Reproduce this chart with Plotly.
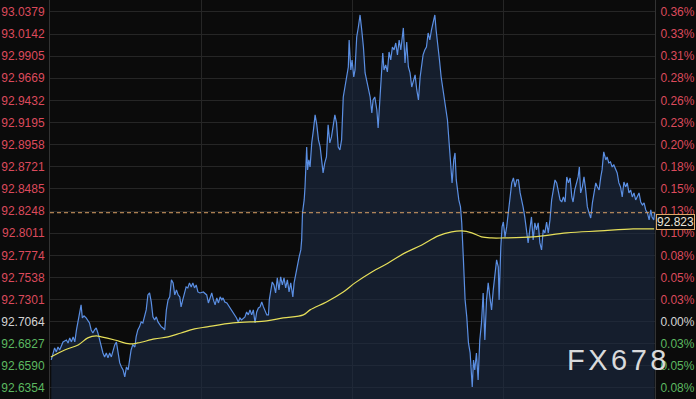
import plotly.graph_objects as go

# ---- data (minutes since session open, price) ----
minutes = [3, 7, 11, 15, 19, 23, 27, 31, 39, 43, 47, 51, 55, 59, 63, 67, 71, 74, 77, 81,
           86, 90, 94, 98, 102, 106, 110, 114, 118, 122, 126, 130, 134, 138, 142, 146, 150, 154, 158, 162,
           166, 170, 174, 178, 182, 186, 190, 193, 197, 202, 205, 209, 213, 217, 221, 225, 229, 233, 237, 241,
           245, 249, 253, 257, 261, 265, 269, 273, 277, 281, 285, 289, 293, 297, 301, 305, 309, 312, 316, 321,
           324, 328, 332, 336, 340, 344, 348, 352, 357, 365, 373, 377, 381, 385, 389, 393, 397, 401, 405, 409,
           412, 416, 421, 424, 428, 432, 436, 440, 444, 448, 452, 456, 460, 464, 468, 472, 476, 480, 484, 488,
           492, 496, 500, 504, 508, 512, 516, 520, 522, 525, 529, 533, 537, 541, 545, 549, 553, 557, 561, 565,
           569, 573, 578, 581, 585, 590, 593, 597, 599, 601, 605, 607, 609, 611, 613, 616, 619, 623, 627, 631,
           635, 639, 643, 647, 650, 654, 658, 662, 666, 670, 674, 678, 682, 686, 690, 694, 698, 702, 706, 710,
           712, 716, 719, 723, 726, 730, 734, 738, 742, 746, 750, 754, 758, 762, 766, 769, 773, 778, 781, 785,
           789, 792, 795, 799, 803, 807, 811, 815, 819, 823, 827, 831, 835, 838, 841, 845, 849, 853, 857, 861,
           865, 869, 873, 877, 881, 885, 888, 892, 896, 900, 904, 908, 912, 916, 919, 923, 927, 931, 935, 938,
           942, 946, 950, 954, 957, 961, 964, 967, 970, 973, 977, 980, 984, 988, 992, 996, 1000, 1002, 1005, 1008,
           1011, 1015, 1019, 1023, 1027, 1031, 1035, 1039, 1043, 1047, 1051, 1055, 1059, 1063, 1067, 1069, 1073, 1076, 1079, 1083,
           1087, 1091, 1095, 1099, 1103, 1107, 1111, 1115, 1119, 1123, 1126, 1130, 1134, 1138, 1142, 1146, 1150, 1154, 1158, 1162,
           1166, 1170, 1174, 1178, 1182, 1186, 1190, 1194, 1198, 1202, 1206, 1210, 1214, 1218, 1222, 1226, 1230, 1234, 1238, 1242,
           1245, 1249, 1253, 1257, 1260, 1263, 1267, 1271, 1275, 1279, 1283, 1287, 1291, 1295, 1299, 1303, 1307, 1311, 1314, 1318,
           1323, 1326, 1330, 1334, 1338, 1342, 1346, 1350, 1354, 1358, 1362, 1366, 1370, 1374, 1378, 1382, 1386, 1390, 1394, 1398,
           1402, 1406, 1410, 1414, 1418, 1422, 1426, 1430, 1433, 1437, 1439]

prices = [92.6654, 92.6729, 92.6783, 92.6740, 92.6793, 92.6761, 92.6815, 92.6847, 92.6868, 92.6836,
          92.6890, 92.6847, 92.6901, 92.6847, 92.6975, 92.7082, 92.7157, 92.7243, 92.7104, 92.7125,
          92.7104, 92.7082, 92.7050, 92.6975, 92.6943, 92.6975, 92.6997, 92.6943, 92.6868, 92.6793,
          92.6729, 92.6686, 92.6729, 92.6676, 92.6729, 92.6686, 92.6761, 92.6815, 92.6847, 92.6729,
          92.6622, 92.6579, 92.6547, 92.6472, 92.6579, 92.6547, 92.6654, 92.6761, 92.6815, 92.6793,
          92.6901, 92.6975, 92.7008, 92.7061, 92.7050, 92.7136, 92.7190, 92.7350, 92.7371, 92.7275,
          92.7115, 92.7082, 92.7115, 92.7061, 92.7029, 92.7008, 92.6997, 92.6975, 92.7190, 92.7297,
          92.7329, 92.7511, 92.7479, 92.7350, 92.7404, 92.7350, 92.7329, 92.7222, 92.7297, 92.7382,
          92.7436, 92.7425, 92.7479, 92.7436, 92.7479, 92.7425, 92.7457, 92.7382, 92.7371, 92.7382,
          92.7350, 92.7264, 92.7329, 92.7371, 92.7297, 92.7243, 92.7318, 92.7264, 92.7329, 92.7297,
          92.7318, 92.7275, 92.7264, 92.7243, 92.7222, 92.7190, 92.7168, 92.7136, 92.7104, 92.7061,
          92.7104, 92.7082, 92.7104, 92.7115, 92.7168, 92.7136, 92.7190, 92.7136, 92.7190, 92.7050,
          92.7168, 92.7211, 92.7222, 92.7275, 92.7222, 92.7168, 92.7136, 92.7136, 92.7297, 92.7382,
          92.7489, 92.7457, 92.7371, 92.7532, 92.7404, 92.7543, 92.7457, 92.7532, 92.7425, 92.7511,
          92.7382, 92.7479, 92.7329, 92.7479, 92.7585, 92.7692, 92.7757, 92.7832, 92.7939, 92.8228,
          92.8367, 92.8506, 92.8720, 92.8934, 92.8688, 92.8795, 92.8720, 92.8977, 92.9116, 92.9277,
          92.9170, 92.9009, 92.8934, 92.8795, 92.8656, 92.8763, 92.8827, 92.9170, 92.8977, 92.9041,
          92.9148, 92.9277, 92.9191, 92.8934, 92.8902, 92.9009, 92.9469, 92.9576, 92.9683, 92.9790,
          93.0079, 92.9758, 92.9865, 92.9683, 92.9758, 93.0111, 93.0218, 93.0347, 93.0186, 93.0004,
          92.9726, 92.9651, 92.9544, 92.9469, 92.9298, 92.9437, 92.9469, 92.9330, 92.9137, 92.9437,
          92.9651, 92.9940, 92.9758, 92.9812, 92.9737, 92.9951, 92.9865, 93.0004, 92.9972, 93.0047,
          92.9919, 93.0079, 92.9972, 93.0111, 93.0208, 92.9833, 93.0058, 92.9790, 92.9726, 92.9576,
          92.9651, 92.9705, 92.9544, 92.9437, 92.9683, 92.9833, 92.9919, 92.9972, 93.0004, 93.0154,
          93.0079, 93.0186, 93.0261, 93.0347, 93.0186, 93.0047, 92.9865, 92.9683, 92.9544, 92.9469,
          92.9362, 92.9223, 92.8977, 92.8656, 92.8549, 92.8795, 92.8870, 92.8581, 92.8442, 92.8367,
          92.8292, 92.8121, 92.7725, 92.7297, 92.7115, 92.6836, 92.6729, 92.6547, 92.6365, 92.6654,
          92.6547, 92.6729, 92.6440, 92.6868, 92.7050, 92.7371, 92.6868, 92.7297, 92.7479, 92.7329,
          92.7190, 92.7404, 92.7585, 92.7725, 92.7650, 92.7297, 92.7864, 92.8078, 92.8131, 92.7971,
          92.8078, 92.8260, 92.8399, 92.8549, 92.8602, 92.8506, 92.8581, 92.8581, 92.8442, 92.8367,
          92.8292, 92.8185, 92.8046, 92.7907, 92.8046, 92.8185, 92.7939, 92.8121, 92.8046, 92.8121,
          92.7907, 92.7832, 92.8046, 92.8014, 92.8131, 92.8014, 92.8153, 92.8367, 92.8474, 92.8581,
          92.8549, 92.8474, 92.8367, 92.8345, 92.8399, 92.8345, 92.8613, 92.8549, 92.8602, 92.8399,
          92.8345, 92.8474, 92.8549, 92.8613, 92.8720, 92.8442, 92.8506, 92.8613, 92.8474, 92.8292,
          92.8228, 92.8174, 92.8335, 92.8442, 92.8549, 92.8506, 92.8474, 92.8613, 92.8688, 92.8881,
          92.8795, 92.8827, 92.8763, 92.8774, 92.8720, 92.8741, 92.8688, 92.8656, 92.8549, 92.8506,
          92.8399, 92.8559, 92.8506, 92.8549, 92.8442, 92.8474, 92.8399, 92.8442, 92.8367, 92.8399,
          92.8442, 92.8345, 92.8313, 92.8335, 92.8260, 92.8228, 92.8153, 92.8260, 92.8185, 92.8153,
          92.8230]

avg_minutes = [2, 35, 67, 90, 110, 122, 154, 190, 209, 249, 281, 312, 344, 374, 436, 516, 555, 603,
               619, 658, 698, 726, 766, 805, 845, 885, 924, 956, 980, 1004, 1027, 1051, 1079, 1150,
               1230, 1309, 1388, 1438]
avg_prices = [92.6686, 92.6761, 92.6815, 92.6890, 92.6911, 92.6901, 92.6868, 92.6826, 92.6836, 92.6879,
              92.6901, 92.6943, 92.6986, 92.7008, 92.7050, 92.7072, 92.7104, 92.7136, 92.7190, 92.7275,
              92.7382, 92.7479, 92.7596, 92.7692, 92.7800, 92.7885, 92.7982, 92.8024, 92.8035, 92.8014,
              92.7971, 92.7960, 92.7960, 92.7971, 92.8014, 92.8035, 92.8056, 92.8056]

last_price = 92.823
prev_close = 92.7064

tick_prices = [93.0379, 93.0142, 92.9905, 92.9669, 92.9432, 92.9195, 92.8958, 92.8721, 92.8485,
               92.8248, 92.8011, 92.7774, 92.7538, 92.7301, 92.7064, 92.6827, 92.6590, 92.6354]
tick_pct = ["0.36%", "0.33%", "0.31%", "0.28%", "0.26%", "0.23%", "0.20%", "0.18%", "0.15%",
            "0.13%", "0.10%", "0.08%", "0.05%", "0.03%", "0.00%", "0.03%", "0.05%", "0.08%"]

RED = "#dc4a5c"
WHITE = "#d4d4d4"
GREEN = "#5cb860"


def col(v):
    if v > prev_close + 1e-9:
        return RED
    if v < prev_close - 1e-9:
        return GREEN
    return WHITE


left_text = [f"<span style='color:{col(v)}'>{v:.4f}</span>" for v in tick_prices]
right_text = [f"<span style='color:{col(v)}'>{t}</span>" for v, t in zip(tick_prices, tick_pct)]

BG = "#0b0b0b"
GRID = "#262626"
YR = [92.6236, 93.0507]

fig = go.Figure()
fig.add_trace(go.Scatter(x=minutes, y=prices, mode="lines",
                         line=dict(color="#5b8fe3", width=1.2),
                         fill="tozeroy", fillcolor="rgba(28,42,66,0.62)",
                         hoverinfo="skip", showlegend=False))
fig.add_trace(go.Scatter(x=avg_minutes, y=avg_prices, mode="lines",
                         line=dict(color="#e6df5a", width=1.2, shape="spline"),
                         hoverinfo="skip", showlegend=False))
fig.add_trace(go.Scatter(x=[0, 1440], y=[last_price, last_price], mode="lines",
                         line=dict(color="#d9a066", width=1, dash="4px,3px"),
                         hoverinfo="skip", showlegend=False))
fig.add_trace(go.Scatter(x=[0], y=[prev_close], mode="markers", yaxis="y2",
                         marker=dict(opacity=0), hoverinfo="skip", showlegend=False))

fig.update_layout(
    width=696, height=399,
    margin=dict(l=50, r=41, t=0, b=0, autoexpand=False),
    paper_bgcolor=BG, plot_bgcolor=BG,
    font=dict(family="Arial, Liberation Sans, sans-serif", size=12, color=WHITE),
    xaxis=dict(range=[0, 1440], tick0=0, dtick=360, showticklabels=False, automargin=False,
               showgrid=True, gridcolor=GRID, gridwidth=1, zeroline=False, ticks=""),
    yaxis=dict(range=YR, tickvals=tick_prices, ticktext=left_text, showgrid=True,
               gridcolor=GRID, gridwidth=1, zeroline=False, ticks="", automargin=False,
               showline=True, linecolor="#333333", linewidth=1,
               tickfont=dict(size=12), ticklabelstandoff=2),
    yaxis2=dict(range=YR, overlaying="y", side="right", tickvals=tick_prices,
                ticktext=right_text, showgrid=False, zeroline=False, ticks="", automargin=False,
                showline=True, linecolor="#333333", linewidth=1,
                tickfont=dict(size=12), ticklabelstandoff=2),
    annotations=[
        dict(text="92.823", xref="paper", x=1, xanchor="left", xshift=1,
             yref="y", y=last_price, yanchor="top", yshift=-1,
             showarrow=False, font=dict(size=12, color="#ece6dc"),
             bgcolor=BG, bordercolor="#e0a868", borderwidth=1, borderpad=0),
        dict(text="<span style='letter-spacing:3.5px'>FX678</span>", xref="paper", x=0.852,
             xanchor="left", yref="paper", y=0.098, yanchor="middle", showarrow=False,
             font=dict(size=29, color="rgba(238,238,238,0.92)",
                       family="Arial, Liberation Sans, sans-serif")),
    ],
)

fig.write_html("out.html", config={"displayModeBar": False},
               post_script="document.body.style.margin='0';document.body.style.background='#0b0b0b';")
